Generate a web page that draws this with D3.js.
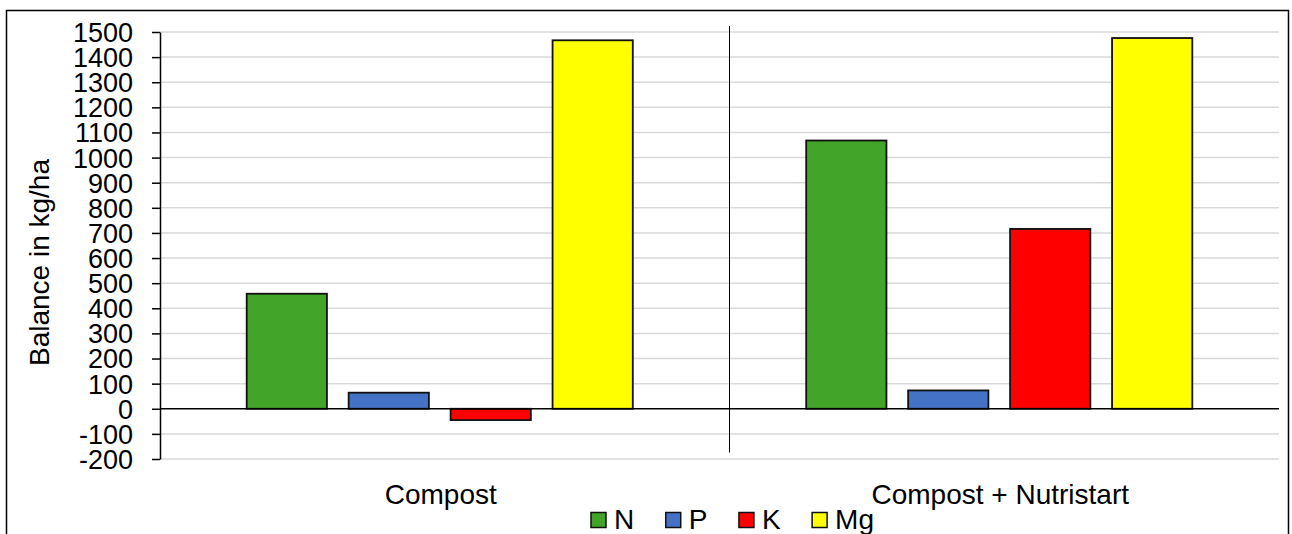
<!DOCTYPE html>
<html>
<head>
<meta charset="utf-8">
<script src="https://cdn.jsdelivr.net/npm/d3@7"></script>
<style>
  html, body { margin: 0; padding: 0; background: #fff; }
  svg { display: block; font-family: "Liberation Sans", Arial, sans-serif; }
</style>
</head>
<body>
<svg id="chart" width="1292" height="534"></svg>
<script>
const categories = ["Compost", "Compost + Nutristart"];
const seriesNames = ["N", "P", "K", "Mg"];
const seriesColors = ["#42a529", "#4472c4", "#ff0000", "#ffff00"];
const valuesN  = [458, 1068];
const valuesP  = [64, 73];
const valuesK  = [-45, 716];
const valuesMg = [1467, 1476];
const yTicks = [-200, -100, 0, 100, 200, 300, 400, 500, 600, 700, 800, 900, 1000, 1100, 1200, 1300, 1400, 1500];
const yTitle = "Balance in kg/ha";

const seriesValues = [valuesN, valuesP, valuesK, valuesMg];

const svg = d3.select("#chart");
const plot = { left: 160, right: 1279, top: 32, bottom: 459 };

// Outer frame
svg.append("rect")
  .attr("x", 6.5).attr("y", 10.5)
  .attr("width", 1282).attr("height", 560)
  .attr("fill", "none").attr("stroke", "#000").attr("stroke-width", 1.5);

const y = d3.scaleLinear().domain([-200, 1500]).range([plot.bottom, plot.top]);
const x0 = d3.scaleBand().domain(categories).range([plot.left, plot.right]).padding(0);
const groupPad = 86.7;
const x1 = d3.scaleBand().domain(seriesNames)
  .range([groupPad, x0.bandwidth() - groupPad])
  .paddingInner(0.213).paddingOuter(0);

// Gridlines
svg.append("g").selectAll("line").data(yTicks.filter(d => d !== 0)).join("line")
  .attr("x1", plot.left).attr("x2", plot.right)
  .attr("y1", d => y(d)).attr("y2", d => y(d))
  .attr("stroke", "#d9d9d9").attr("stroke-width", 1.5);

// Category divider (offset as in the reference)
const divX = x0(categories[1]) + 10;
svg.append("line")
  .attr("x1", divX).attr("x2", divX)
  .attr("y1", 26).attr("y2", 452.5)
  .attr("stroke", "#000").attr("stroke-width", 1);

// Bars
const data = [];
categories.forEach((c, ci) => {
  seriesNames.forEach((s, si) => {
    data.push({ cat: c, series: s, value: seriesValues[si][ci], color: seriesColors[si] });
  });
});
svg.append("g").selectAll("rect").data(data).join("rect")
  .attr("x", d => x0(d.cat) + x1(d.series))
  .attr("width", x1.bandwidth())
  .attr("y", d => y(Math.max(0, d.value)))
  .attr("height", d => Math.abs(y(d.value) - y(0)))
  .attr("fill", d => d.color)
  .attr("stroke", "#111").attr("stroke-width", 1.8);

// Zero line
svg.append("line")
  .attr("x1", plot.left).attr("x2", plot.right)
  .attr("y1", y(0)).attr("y2", y(0))
  .attr("stroke", "#000").attr("stroke-width", 1.5);

// Y axis
const yAxis = d3.axisLeft(y).tickValues(yTicks).tickSize(8).tickPadding(19).tickSizeOuter(0)
  .tickFormat(d => String(d));
const gy = svg.append("g").attr("transform", `translate(${plot.left},0)`).call(yAxis);
gy.select(".domain").attr("stroke", "#000").attr("stroke-width", 1.5);
gy.selectAll(".tick line").attr("stroke", "#000").attr("stroke-width", 1.5);
gy.selectAll(".tick text")
  .attr("font-size", 27).attr("fill", "#000")
  .attr("font-family", "'Liberation Sans', Arial, sans-serif")
  .attr("dy", "0.35em");

// Y title
svg.append("text")
  .attr("transform", `translate(49, ${262.5}) rotate(-90)`)
  .attr("text-anchor", "middle")
  .attr("font-size", 28).attr("fill", "#000")
  .text(yTitle);

// Category labels
svg.append("g").selectAll("text").data(categories).join("text")
  .attr("x", d => x0(d) + x0.bandwidth() / 2 + 1)
  .attr("y", 504)
  .attr("text-anchor", "middle")
  .attr("font-size", 28).attr("fill", "#000")
  .text(d => d);

// Legend
const legend = svg.append("g");
let lx = 591;
seriesNames.forEach((s, i) => {
  legend.append("rect")
    .attr("x", lx).attr("y", 512.5)
    .attr("width", 15).attr("height", 15)
    .attr("fill", seriesColors[i]).attr("stroke", "#111").attr("stroke-width", 1.5);
  const t = legend.append("text")
    .attr("x", lx + 23).attr("y", 529)
    .attr("font-size", 28).attr("fill", "#000")
    .text(s);
  lx += 23 + t.node().getComputedTextLength() + 31.5;
});
</script>
</body>
</html>
